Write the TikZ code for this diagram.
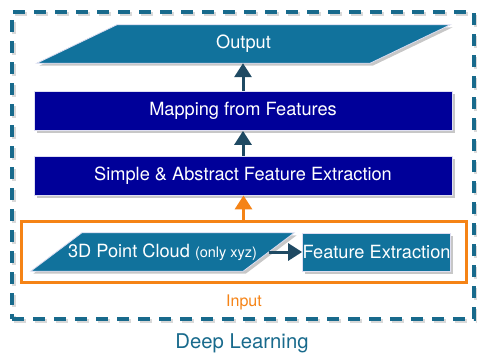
\documentclass[tikz,border=0pt]{standalone}
\usepackage{fontspec}
\setmainfont{TeX Gyre Heros}
\usetikzlibrary{arrows.meta,shadows,calc,backgrounds}

\definecolor{tealface}{RGB}{17,114,156}
\definecolor{navyface}{RGB}{0,0,153}
\definecolor{rimcol}{RGB}{222,222,242}
\definecolor{arrowcol}{RGB}{31,74,99}
\definecolor{inputcol}{RGB}{245,131,22}
\definecolor{framecol}{RGB}{24,106,140}

\newcommand\boxfont{\fontsize{18.2}{21}\selectfont}
\newcommand\notefont{\fontsize{14.5}{17}\selectfont}

\tikzset{
  softshadow/.style={drop shadow={shadow xshift=2.5pt,shadow yshift=-2.5pt,fill=black,opacity=0.22}},
  navybox/.style={rectangle, fill=navyface, draw=rimcol, line width=0.8pt,
    minimum width=418pt, minimum height=39pt, inner sep=0pt,
    text=white, font=\boxfont, softshadow},
  tealbox/.style={rectangle, fill=tealface, draw=rimcol, line width=0.8pt,
    minimum height=38pt, inner sep=0pt, text=white, font=\boxfont, softshadow},
  paraspan/.style={rectangle, inner sep=0pt, minimum height=38pt,
    text=white, font=\boxfont},
  paraface/.style={fill=tealface, draw=rimcol, line width=0.8pt, softshadow},
  flow/.style={draw=arrowcol, line width=3pt, -{Triangle[length=14pt,width=17pt]}},
  framebase/.style={rectangle, line width=3.5pt, dash pattern=on 12pt off 9pt,
    minimum width=462pt, minimum height=307pt},
  frame/.style={framebase, draw=framecol},
  frameshade/.style={framebase, draw=black, draw opacity=0.15},
  inputframe/.style={rectangle, draw=inputcol, line width=3pt},
}

\begin{document}
\begin{tikzpicture}[x=1pt,y=-1pt]
\useasboundingbox (0,0) rectangle (477,356);

% outer dashed frame with its faint shade, and the orange input frame
\node[frameshade] (dlshade) at (245,167.5) {};
\node[frame] (dlframe) at (243,165.5) {};
\node[inputframe, minimum width=445pt, minimum height=61pt] (inbox) at (243.5,251.5) {};

% text holders of the two parallelograms
\node[paraspan, minimum width=253pt] (out) at (243.5,44) {Output};
\node[paraspan, minimum width=161pt] (pc) at (162.5,252)
  {\makebox[0pt]{3D Point Cloud {\notefont(only xyz)}}};

% parallelogram faces behind their text
\begin{scope}[on background layer]
  \fill[paraface] ($(out.south west)+(-80,0)$) -- (out.south east)
    -- ($(out.north east)+(80,0)$) -- (out.north west) -- cycle;
  \fill[paraface] ($(pc.south west)+(-51,0)$) -- (pc.south east)
    -- ($(pc.north east)+(51,0)$) -- (pc.north west) -- cycle;
\end{scope}

% rectangular stages
\node[navybox] (map) at (243,111) {Mapping from Features};
\node[navybox] (simple) at (243,175.5) {Simple \& Abstract Feature Extraction};
\node[tealbox, minimum width=143pt] (fe) at (376.5,252) {Feature Extraction};

% labels
\node[text=inputcol, font=\fontsize{16}{19}\selectfont] (inlabel) at (244,302) {Input};
\node[text=framecol, font=\fontsize{20.3}{24}\selectfont] (dllabel) at (242,343) {Deep Learning};

% connectors
\draw[flow] (map.north) -- (map.north |- out.south);
\draw[flow] (simple.north) -- (map.south);
\draw[flow, draw=inputcol] (inbox.north) -- (inbox.north |- simple.south);
\draw[flow] ($(pc.east)+(25.5,0)$) -- (fe.west);
\end{tikzpicture}
\end{document}
